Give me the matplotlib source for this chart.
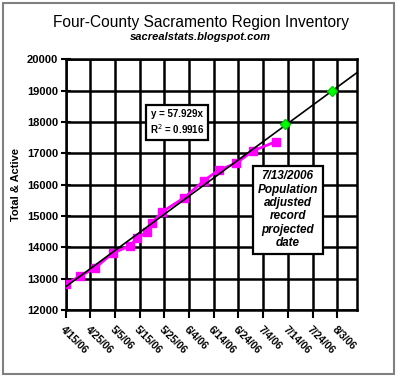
import matplotlib
matplotlib.use("Agg")
import matplotlib.pyplot as plt
import matplotlib.dates as mdates
import pandas as pd
from matplotlib.patches import Rectangle

plt.rcParams["font.family"] = ["Liberation Sans", "DejaVu Sans"]

# inventory readings
dates = ["2006-04-15", "2006-04-21", "2006-04-27", "2006-05-04", "2006-05-11",
         "2006-05-14", "2006-05-18", "2006-05-20", "2006-05-24", "2006-06-02",
         "2006-06-10", "2006-06-16", "2006-06-23", "2006-06-30", "2006-07-09"]
inventory = [12828, 13084, 13348, 13808, 14050, 14287, 14497, 14785, 15126,
             15583, 16125, 16467, 16681, 17083, 17370]

# projected record points
proj_dates = ["2006-07-13", "2006-08-01"]
proj_values = [17930, 19000]

# trend line: y = 57.929 per day, anchored at the first date
trend_slope = 57.929
trend_start = 12740
trend_range = ["2006-04-15", "2006-08-11"]

x_ticks = pd.date_range("2006-04-15", "2006-08-03", freq="10D")
y_ticks = list(range(12000, 20001, 1000))

d = pd.to_datetime(dates)
pd_ = pd.to_datetime(proj_dates)
t0, t1 = pd.to_datetime(trend_range)
trend_x = [t0, t1]
trend_y = [trend_start, trend_start + trend_slope * (t1 - t0).days]

fig = plt.figure(figsize=(4.0, 3.79), dpi=100)
ax = fig.add_axes([0.164, 0.182, 0.7285, 0.6615])

ax.plot(d, inventory, color="#ff00ff", lw=2, marker="s", ms=6,
        mec="#ff00ff", mfc="#ff00ff", zorder=3)
ax.plot(trend_x, trend_y, color="black", lw=1.2, zorder=4)
ax.plot(pd_, proj_values, ls="none", marker="D", ms=5.5, color="#00ff00",
        mec="#00cc00", zorder=5)

ax.set_xlim(t0, t1)
ax.set_ylim(12000, 20000)
ax.set_xticks(x_ticks)
ax.set_yticks(y_ticks)
ax.xaxis.set_major_formatter(mdates.DateFormatter("%-m/%-d/%y"))
ax.grid(True, color="black", lw=1.8)
ax.set_axisbelow(True)
for s in ax.spines.values():
    s.set_linewidth(1.8)

ax.tick_params(axis="y", direction="inout", length=7, width=1.5, pad=2,
               labelsize=8)
ax.tick_params(axis="x", direction="out", length=6, width=1.5, pad=4,
               labelsize=7.5)
for lab in ax.get_yticklabels():
    lab.set_fontweight("bold")
for lab in ax.get_xticklabels():
    lab.set_fontweight("bold")
    lab.set_rotation(-45)
    lab.set_ha("left")
    lab.set_va("top")
    lab.set_rotation_mode("anchor")

ax.set_ylabel("Total & Active", fontsize=8, fontweight="bold", labelpad=4)

ax.text(0.382, 0.748, "y = 57.929x\nR$^2$ = 0.9916", transform=ax.transAxes,
        fontsize=7, fontweight="bold", ha="center", va="center",
        linespacing=1.35, zorder=6,
        bbox=dict(boxstyle="square,pad=0.35", fc="white", ec="black", lw=1.6))

ax.text(0.762, 0.4, "7/13/2006\nPopulation\nadjusted\nrecord\nprojected\ndate",
        transform=ax.transAxes, fontsize=8.5, fontweight="bold",
        fontstyle="italic", ha="center", va="center", linespacing=1.15,
        zorder=6,
        bbox=dict(boxstyle="square,pad=0.4", fc="white", ec="black", lw=1.6))

fig.text(0.5025, 1 - 22.5 / 379, "Four-County Sacramento Region Inventory",
         fontsize=11.2, ha="center", va="center")
fig.text(0.5, 1 - 37.5 / 379, "sacrealstats.blogspot.com", fontsize=8,
         fontweight="bold", fontstyle="italic", ha="center", va="center")

# outer chart frame
fig.patches.append(Rectangle((3 / 400, 5 / 379), 391 / 400, 371 / 379,
                             transform=fig.transFigure, fill=False,
                             ec="#808080", lw=1.5))

fig.savefig("out.png", dpi=100)
